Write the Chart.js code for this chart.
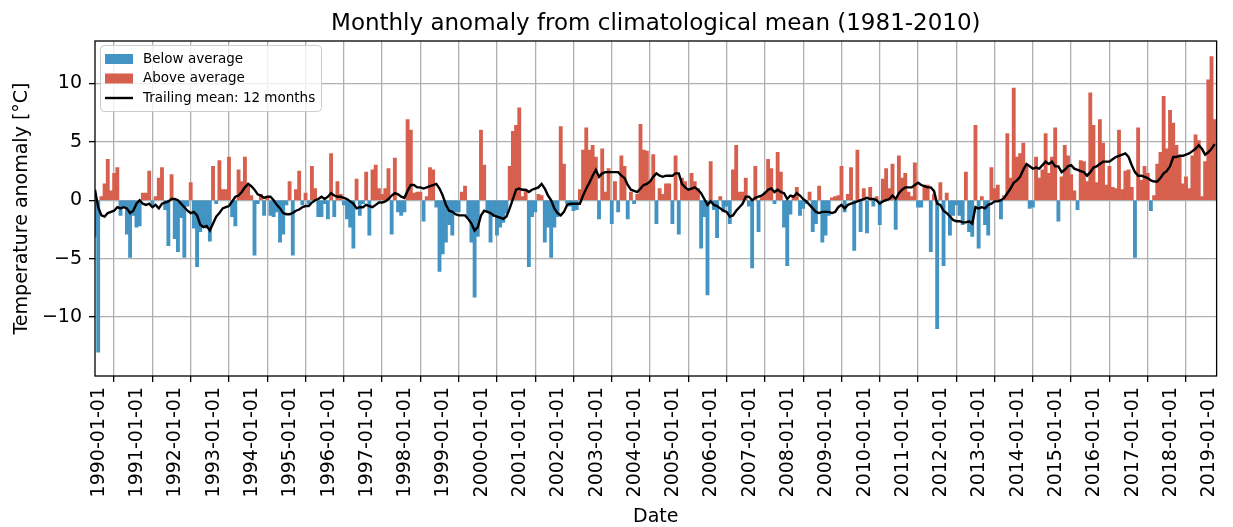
<!DOCTYPE html>
<html>
<head>
<meta charset="utf-8">
<script src="https://cdn.jsdelivr.net/npm/chart.js@4.4.1/dist/chart.umd.min.js"></script>
<style>
html,body{margin:0;padding:0;background:#fff;}
#wrap{width:1233px;height:527px;position:relative;}
</style>
</head>
<body>
<div id="wrap"><canvas id="c" width="1233" height="527"></canvas></div>
<script>
// ---- DATA (monthly, starting 1990-01) ----
const startYear = 1990;
const anomaly = [
  -3.1, -13.0, 0.3, 1.4, 3.5, 0.8, 2.3, 2.8, -1.3, -0.5, -2.9, -4.9,   // 1990
  -1.3, -2.3, -2.2, 0.6, 0.6, 2.5, -0.4, 0.3, 1.9, 2.8, -0.8, -3.9,    // 1991
  2.2, -3.3, -4.4, -1.5, -4.9, -0.5, 1.5, -2.4, -5.7, -2.7, -2.3, -2.4,// 1992
  -3.5, 2.9, -0.3, 3.4, 0.9, 0.9, 3.7, -1.4, -2.2, 2.6, 1.6, 3.7,      // 1993
  1.2, 0.4, -4.7, -0.3, 0.5, -1.3, 0.3, -1.3, -1.4, -1.0, -3.6, -2.9,  // 1994
  -0.4, 1.6, -4.7, 0.9, 2.5, -0.4, 0.6, -0.3, 2.9, 1.0, -1.4, -1.4,    // 1995
  -0.3, -1.6, 4.0, -1.4, 1.6, 0.5, -0.4, -1.6, -2.3, -4.1, 1.8, -1.3,  // 1996
  -0.3, 2.4, -3.0, 2.6, 3.0, 1.0, 0.5, 1.0, 2.7, -2.9, 3.6, -1.0,      // 1997
  -1.3, -1.0, 6.9, 6.0, 0.6, 0.7, 0.7, -1.8, 0.3, 2.8, 2.6, -0.6,      // 1998
  -6.1, -4.6, -3.6, -2.1, -3.0, -1.0, -1.0, 0.7, 1.2, -1.5, -3.6, -8.3,// 1999
  -3.1, 6.0, 3.0, -1.0, -3.6, -1.4, -3.0, -2.3, -1.9, -1.1, 2.9, 5.9,  // 2000
  6.4, 7.9, 0.3, 0.9, -5.7, -1.4, -1.0, 0.5, 0.4, -3.6, -2.3, -4.9,    // 2001
  -2.3, -1.4, 6.3, 3.1, -0.3, -0.5, -0.9, -0.8, 0.9, 4.3, 6.2, 4.3,    // 2002
  4.7, 3.7, -1.6, 4.4, 0.7, 2.7, -2.0, 1.6, -1.0, 3.8, 2.9, -1.6,      // 2003
  0.7, -0.3, 0.5, 6.5, 4.3, 4.2, 1.6, 3.9, -2.0, 1.0, 0.5, 1.4,        // 2004
  1.4, -2.0, 3.8, -2.9, 1.9, 1.6, 0.9, 2.3, 1.6, 1.0, -4.1, -1.4,      // 2005
  -8.1, 3.3, -0.8, -3.2, 0.3, -1.0, -0.5, -2.0, 2.6, 4.7, 0.7, 0.7,    // 2006
  1.9, -0.5, -5.8, 2.9, -2.7, 0.3, 0.7, 3.5, 2.7, -0.3, 4.1, 2.4,      // 2007
  -2.3, -5.6, -1.2, 0.3, 1.1, -1.3, -0.7, -0.3, 0.7, -2.7, -2.0, 1.2,  // 2008
  -3.6, -3.0, -1.3, 0.2, 0.3, 0.4, 2.9, -1.0, 0.5, 2.8, -4.3, 4.3,     // 2009
  -2.7, 1.0, -2.8, 1.1, -0.5, 0.3, -2.1, 1.8, 2.7, 1.0, 3.1, -2.5,     // 2010
  3.8, 1.9, 2.3, 0.7, 0.3, 3.2, -0.6, -0.6, 1.3, 1.3, -4.4, 0.5,       // 2011
  -11.0, 1.5, -5.6, 0.6, -3.0, -1.3, -0.4, -1.3, -2.1, 2.4, -2.7, -3.1,// 2012
  6.4, -4.1, 0.3, -2.1, -3.0, 2.8, 1.0, 1.3, -1.6, 0.4, 5.7, 1.9,      // 2013
  9.6, 3.7, 4.0, 4.9, 2.9, -0.7, -0.6, 3.7, 1.9, 2.6, 5.7, 2.3,        // 2014
  3.7, 6.2, -1.8, 2.0, 4.7, 3.8, 2.2, 0.8, -0.8, 3.4, 3.3, 1.6,        // 2015
  9.2, 6.4, 1.5, 6.9, 4.9, 1.3, 2.9, 1.1, 1.0, 6.0, 0.9, 2.5,          // 2016
  2.6, 1.1, -4.9, 6.2, 1.7, 2.9, 2.3, -0.9, 0.4, 3.1, 4.1, 8.9,        // 2017
  4.4, 7.7, 6.6, 4.7, 3.7, 1.4, 2.0, 1.0, 3.8, 5.6, 5.1, 0.3,          // 2018
  3.3, 10.3, 12.3, 6.9                                                 // 2019
];
const trailingMean = [
  0.9, -0.6, -1.3, -1.4, -1.1, -1.0, -0.9, -0.6, -0.7, -0.6, -0.7, -1.1, // 1990
  -0.9, -0.3, 0.0, -0.3, -0.4, -0.3, -0.6, -0.4, -0.7, -0.3, -0.2, -0.1, // 1991
  0.1, 0.1, 0.0, -0.3, -0.6, -0.9, -1.1, -1.0, -1.3, -2.1, -2.3, -2.2,   // 1992
  -2.6, -2.0, -1.4, -1.1, -0.7, -0.6, -0.5, -0.1, 0.3, 0.4, 0.7, 1.1,    // 1993
  1.4, 1.2, 0.9, 0.5, 0.4, 0.2, 0.3, 0.3, 0.0, -0.4, -0.7, -1.1,         // 1994
  -1.2, -1.2, -1.1, -0.9, -0.8, -0.6, -0.5, -0.5, -0.2, 0.0, 0.1, 0.3,   // 1995
  0.1, 0.3, 0.6, 0.4, 0.3, 0.3, 0.2, 0.1, -0.1, -0.3, -0.7, -0.6,        // 1996
  -0.6, -0.4, -0.5, -0.6, -0.4, -0.2, -0.2, -0.1, 0.1, 0.4, 0.6, 0.5,    // 1997
  0.3, 0.2, 0.8, 1.3, 1.3, 1.1, 1.1, 1.0, 1.1, 1.2, 1.3, 1.4,            // 1998
  1.0, 0.4, -0.4, -0.9, -1.0, -1.2, -1.3, -1.3, -1.3, -1.6, -2.0, -2.6,  // 1999
  -2.3, -1.3, -0.9, -1.0, -1.1, -1.3, -1.4, -1.5, -1.6, -1.4, -0.7, 0.1, // 2000
  0.9, 1.0, 0.9, 0.9, 0.7, 0.9, 1.0, 1.1, 1.4, 1.0, 0.4, 0.0,            // 2001
  -0.7, -1.1, -1.3, -1.0, -0.4, -0.3, -0.3, -0.3, -0.3, 0.4, 1.0, 1.5,   // 2002
  2.1, 2.6, 2.0, 2.3, 2.4, 2.4, 2.4, 2.4, 2.4, 2.1, 1.9, 1.3,            // 2003
  0.9, 0.8, 0.7, 1.0, 1.3, 1.4, 1.6, 2.0, 2.3, 2.1, 2.0, 2.1,            // 2004
  2.1, 2.1, 2.3, 2.3, 1.4, 1.1, 0.9, 1.0, 1.1, 0.9, 0.6, 0.1,            // 2005
  -0.4, -0.1, -0.4, -0.5, -0.7, -0.9, -1.0, -1.4, -1.3, -0.9, -0.6, -0.3,// 2006
  0.3, 0.3, 0.0, 0.2, 0.3, 0.4, 0.6, 0.9, 1.0, 0.7, 0.9, 0.7,            // 2007
  0.6, 0.1, 0.4, 0.3, 0.6, 0.4, 0.1, -0.1, -0.4, -0.7, -1.0, -1.1,       // 2008
  -1.0, -1.0, -1.0, -1.1, -1.0, -0.6, -0.4, -0.7, -0.4, -0.3, -0.2, -0.1,// 2009
  0.0, 0.1, 0.2, 0.1, 0.1, 0.0, -0.3, -0.1, 0.0, 0.1, 0.4, 0.1,          // 2010
  0.6, 0.9, 1.1, 1.1, 1.1, 1.3, 1.5, 1.3, 1.2, 1.1, 1.1, 0.8,            // 2011
  -0.3, -0.4, -0.9, -1.1, -1.4, -1.7, -1.8, -1.8, -1.9, -1.9, -1.8, -2.0,// 2012
  -0.6, -0.7, -0.6, -0.7, -0.4, -0.3, -0.1, -0.1, 0.0, 0.2, 0.6, 1.0,    // 2013
  1.5, 1.7, 2.0, 2.6, 3.1, 2.9, 2.7, 2.8, 2.7, 3.0, 3.3, 3.1,            // 2014
  3.3, 2.9, 2.9, 2.4, 2.6, 2.9, 3.0, 2.7, 2.6, 2.5, 2.4, 2.1,            // 2015
  2.4, 2.8, 2.9, 3.1, 3.3, 3.3, 3.3, 3.5, 3.7, 3.8, 3.9, 4.0,            // 2016
  3.7, 3.0, 2.4, 2.1, 2.1, 2.0, 1.9, 1.7, 1.6, 1.6, 1.9, 2.3,            // 2017
  2.5, 2.9, 3.7, 3.7, 3.8, 3.8, 3.9, 4.0, 4.2, 4.4, 4.7, 4.4,            // 2018
  3.9, 4.1, 4.4, 4.8                                                     // 2019
];
const tickYears = [];
for (let y = 1990; y <= 2019; y++) tickYears.push(y);
const yTicks = [-10, -5, 0, 5, 10];
const seriesNames = ['Below average', 'Above average', 'Trailing mean: 12 months'];
const titleText = 'Monthly anomaly from climatological mean (1981-2010)';
const xTitle = 'Date';
const yTitle = 'Temperature anomaly [°C]';

// ---- STYLE ----
const FAM = "'DejaVu Sans', sans-serif";
const BLUE = '#4393c3', RED = '#d6604d';

const below = anomaly.map((v, i) => ({x: i, y: v})).filter(p => p.y < 0);
const above = anomaly.map((v, i) => ({x: i, y: v})).filter(p => p.y >= 0);
const mean = trailingMean.map((v, i) => ({x: i, y: v}));

const overlay = {
  id: 'overlay',
  beforeDatasetDraw(chart, args) {
    if (args.index === 2) return false;
  },
  afterDraw(chart) {
    const ctx = chart.ctx, a = chart.chartArea;
    // trailing mean line above the grid
    ctx.save();
    ctx.beginPath();
    ctx.rect(a.left, a.top, a.right - a.left, a.bottom - a.top);
    ctx.clip();
    chart.getDatasetMeta(2).controller.draw();
    ctx.restore();
    // spines
    ctx.save();
    ctx.strokeStyle = '#000';
    ctx.lineWidth = 1.3;
    ctx.strokeRect(a.left, a.top, a.right - a.left, a.bottom - a.top);
    ctx.restore();
    // legend
    ctx.save();
    const lx = 100.5, ly = 45.5, lw = 221, lh = 66, r = 4;
    ctx.beginPath();
    ctx.moveTo(lx + r, ly);
    ctx.arcTo(lx + lw, ly, lx + lw, ly + lh, r);
    ctx.arcTo(lx + lw, ly + lh, lx, ly + lh, r);
    ctx.arcTo(lx, ly + lh, lx, ly, r);
    ctx.arcTo(lx, ly, lx + lw, ly, r);
    ctx.closePath();
    ctx.fillStyle = 'rgba(255,255,255,0.8)';
    ctx.fill();
    ctx.strokeStyle = '#cccccc';
    ctx.lineWidth = 1;
    ctx.stroke();
    const rows = [59, 78.5, 98];
    ctx.fillStyle = BLUE; ctx.fillRect(105, rows[0] - 5, 28, 10);
    ctx.fillStyle = RED; ctx.fillRect(105, rows[1] - 5, 28, 10);
    ctx.strokeStyle = '#000'; ctx.lineWidth = 2.4;
    ctx.beginPath(); ctx.moveTo(105, rows[2]); ctx.lineTo(133, rows[2]); ctx.stroke();
    ctx.fillStyle = '#000';
    ctx.font = '13.5px ' + FAM;
    ctx.textBaseline = 'middle';
    ctx.textAlign = 'left';
    seriesNames.forEach((n, i) => ctx.fillText(n, 143, rows[i]));
    ctx.restore();
    // titles
    ctx.save();
    ctx.fillStyle = '#000';
    ctx.textAlign = 'center';
    ctx.textBaseline = 'alphabetic';
    ctx.font = '23px ' + FAM;
    ctx.fillText(titleText, (a.left + a.right) / 2, 29.5);
    ctx.font = '19px ' + FAM;
    ctx.fillText(xTitle, (a.left + a.right) / 2, 522);
    ctx.translate(22, (a.top + a.bottom) / 2);
    ctx.rotate(-Math.PI / 2);
    ctx.textBaseline = 'middle';
    ctx.fillText(yTitle, 0, 0);
    ctx.restore();
  }
};

const gridOpts = {color: '#b0b0b0', lineWidth: 1.3, tickColor: '#000', tickLength: 6, tickWidth: 1.3, drawTicks: true};

new Chart(document.getElementById('c').getContext('2d'), {
  type: 'bar',
  data: {
    datasets: [
      {label: seriesNames[0], data: below, backgroundColor: BLUE, grouped: false, barPercentage: 1, categoryPercentage: 1},
      {label: seriesNames[1], data: above, backgroundColor: RED, grouped: false, barPercentage: 1, categoryPercentage: 1},
      {type: 'line', label: seriesNames[2], data: mean, borderColor: '#000', borderWidth: 2.4, pointRadius: 0, tension: 0, fill: false}
    ]
  },
  options: {
    responsive: false,
    animation: false,
    devicePixelRatio: 1,
    layout: {padding: {left: 0, right: 7, top: 41, bottom: 0}},
    plugins: {legend: {display: false}, title: {display: false}, tooltip: {enabled: false}},
    scales: {
      x: {
        type: 'linear', min: 0, max: 351.6, offset: false, z: 1,
        afterBuildTicks: s => { s.ticks = tickYears.map(y => ({value: (y - startYear) * 12})); },
        afterFit: s => { s.height = 151; },
        ticks: {
          autoSkip: false, maxRotation: 90, minRotation: 90, padding: 5, labelOffset: 4, color: '#000',
          font: {family: FAM, size: 19},
          callback: v => (startYear + Math.round(v / 12)) + '-01-01'
        },
        grid: gridOpts,
        border: {display: false}
      },
      y: {
        min: -15.05, max: 13.63, z: 1,
        afterBuildTicks: s => { s.ticks = yTicks.map(v => ({value: v})); },
        afterFit: s => { s.width = 95; },
        ticks: {
          padding: 7, color: '#000',
          font: {family: FAM, size: 19},
          callback: v => v < 0 ? '\u2212' + Math.abs(v) : String(v)
        },
        grid: gridOpts,
        border: {display: false}
      }
    }
  },
  plugins: [overlay]
});
</script>
</body>
</html>
